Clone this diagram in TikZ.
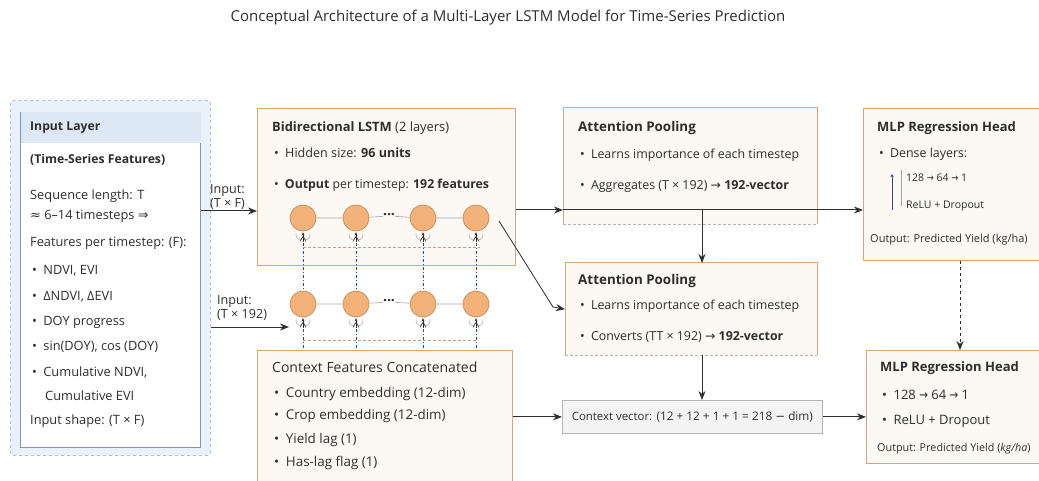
\documentclass[tikz,border=0pt]{standalone}
\usepackage{fontspec}
\setmainfont{Open Sans}
\newfontfamily\symf{DejaVu Sans}
\usetikzlibrary{arrows.meta,calc}

\definecolor{textc}{HTML}{2E2E2E}
\definecolor{boxline}{HTML}{D6A77A}
\definecolor{boxfill}{HTML}{FCF9F5}
\definecolor{inbg}{HTML}{E9F1FB}
\definecolor{inline}{HTML}{A9C2E0}
\definecolor{ininner}{HTML}{7E97B8}
\definecolor{inhead}{HTML}{DDE8F5}
\definecolor{cellfill}{HTML}{F2B27A}
\definecolor{cellline}{HTML}{C98A50}
\definecolor{navy}{HTML}{2F4A78}
\definecolor{vecfill}{HTML}{F4F4F4}
\definecolor{vecline}{HTML}{B5B5B5}

\newcommand{\sy}[1]{{\symf #1}}
\newcommand{\syto}{{\symf\scalebox{0.8}[1]{→}}}

\tikzset{
  txt/.style={anchor=west, inner sep=0pt, text=textc, font=\fontsize{12.4}{14}\selectfont},
  inb/.style={txt, font=\fontsize{12.8}{15}\selectfont},
  ctxb/.style={txt, font=\fontsize{13.4}{15}\selectfont},
  small/.style={txt, font=\fontsize{11}{13}\selectfont},
  ttl/.style={txt, font=\fontsize{13.4}{16}\selectfont\bfseries},
  panel/.style={fill=boxfill, draw=boxline, line width=1pt, anchor=north west, inner sep=0pt},
  cell/.style={circle, fill=cellfill, draw=cellline, line width=0.7pt, minimum size=26pt, inner sep=0pt},
  arr/.style={draw=textc, line width=1pt, -{Stealth[length=9pt,width=7pt]}},
  vlink/.style={draw=navy, line width=1pt, dash pattern=on 3pt off 2pt on 1pt off 2pt},
  hlink/.style={draw=boxline!80!gray, line width=0.7pt, dash pattern=on 3pt off 2pt},
  fork/.pic={
    \draw[gray!70, line width=0.5pt] (-7,1) .. controls (-7,8) and (-2,9) .. (-1,5);
    \draw[gray!70, line width=0.5pt] (7,1) .. controls (7,8) and (2,9) .. (1,5);
    \draw[textc, line width=0.6pt] (-3,9) -- (0,4) -- (3,9);
    \draw[textc, line width=0.6pt, -{Stealth[length=3pt,width=3pt]}] (0,10) -- (0,0);
  }
}

\begin{document}
\begin{tikzpicture}[x=1pt, y=-1pt]
\useasboundingbox (0,0) rectangle (1039,481);
\fill[white] (0,0) rectangle (1039,481);

% title
\node[txt, anchor=center, font=\fontsize{15}{18}\selectfont] (title) at (508,18)
  {Conceptual Architecture of a Multi-Layer LSTM Model for Time-Series Prediction};

% ---------------- input layer ----------------
\node[draw=inline, fill=inbg, dashed, rounded corners=3pt, line width=0.8pt,
      minimum width=200pt, minimum height=355pt, anchor=north west] (inout) at (10,100) {};
\node[draw=ininner, fill=white, line width=1pt, minimum width=180pt, minimum height=335pt,
      anchor=north west] (inbox) at (20,112) {};
\fill[inhead] ($(inbox.north west)+(0.5,0.5)$) rectangle ($(inbox.north east)+(-0.5,31)$);
\node[ttl, font=\fontsize{12.2}{14}\selectfont\bfseries] (inT) at (30,128) {Input Layer};
\node[ttl, font=\fontsize{12.2}{14}\selectfont\bfseries] (inS) at (30,160) {(Time-Series Features)};
\node[inb] (in1) at (30,196) {Sequence length: T};
\node[inb] (in2) at (30,216) {\sy{≈} 6–14 timesteps \sy{⇒}};
\node[inb] (in3) at (30,243) {Features per timestep: (F):};
\node[inb] (in4) at (32,271) {•\enspace NDVI, EVI};
\node[inb] (in5) at (32,297) {•\enspace ΔNDVI, ΔEVI};
\node[inb] (in6) at (32,322) {•\enspace DOY progress};
\node[inb] (in7) at (32,347) {•\enspace sin(DOY), cos (DOY)};
\node[inb] (in8) at (32,372) {•\enspace Cumulative NDVI,};
\node[inb] (in9) at (45,396) {Cumulative EVI};
\node[inb] (in10) at (30,421) {Input shape: (T × F)};

% ---------------- bidirectional LSTM ----------------
\node[panel, minimum width=258pt, minimum height=157pt] (lstm) at (257,108) {};
\node[ttl, font=\fontsize{12.9}{15}\selectfont\bfseries] (lstmT) at (272,128) {Bidirectional LSTM \mdseries(2 layers)};
\node[txt, font=\fontsize{12.6}{15}\selectfont] (lstm1) at (274,153) {•\enspace Hidden size: \textbf{96 units}};
\node[txt, font=\fontsize{12.3}{15}\selectfont] (lstm2) at (274,185) {•\enspace \textbf{Output} per timestep: \textbf{192 features}};

% two rows of recurrent cells
\foreach \r/\y in {1/218, 2/304}{
  \node[cell] (c\r1) at (303,\y) {};
  \node[cell] (c\r2) at (356,\y) {};
  \node[txt, anchor=center, font=\fontsize{14}{14}\selectfont\bfseries] (d\r) at (389,\y-2) {···};
  \node[cell] (c\r3) at (423,\y) {};
  \node[cell] (c\r4) at (476,\y) {};
  \draw[gray!70, line width=0.6pt] (c\r1) -- (c\r2) (c\r2) -- (d\r) (d\r) -- (c\r3) (c\r3) -- (c\r4);
  \foreach \i in {1,...,4}{
    \path ($(c\r\i.south)+(0,1)$) pic {fork};
  }
}
\draw[hlink] ($(c11.south)+(0,16)$) -- ($(c14.south)+(4,16)$);
\draw[hlink] ($(c21.south)+(0,23)$) -- ($(c24.south)+(2,23)$);
\foreach \i in {1,...,4}{
  \draw[vlink] ($(c1\i.south)+(0,12)$) -- (c2\i.north);
  \draw[vlink] ($(c2\i.south)+(0,12)$) -- ($(c2\i.south)+(0,46)$);
}

% ---------------- context features ----------------
\node[panel, minimum width=255pt, minimum height=135pt] (ctx) at (257,350) {};
\node[txt, font=\fontsize{14}{16}\selectfont] (ctxT) at (272,367) {Context Features Concatenated};
\node[ctxb] (ctx1) at (274,394) {•\enspace Country embedding (12-dim)};
\node[ctxb] (ctx2) at (274,416) {•\enspace Crop embedding (12-dim)};
\node[ctxb] (ctx3) at (274,440) {•\enspace Yield lag (1)};
\node[ctxb] (ctx4) at (274,463) {•\enspace Has-lag flag (1)};

% ---------------- attention pooling ----------------
\node[fill=boxfill, minimum width=254pt, minimum height=116pt, anchor=north west, inner sep=0pt] (att1) at (563,108) {};
\draw[boxline, line width=1pt] (att1.south west) -- (att1.north west) -- (att1.north east) -- (att1.south east);
\draw[gray!60, line width=0.7pt, dash pattern=on 3pt off 2pt] (att1.south west) -- (att1.south east);
\node[ttl] (att1T) at (578,128) {Attention Pooling};
\node[txt] (att11) at (580,155) {•\enspace Learns importance of each timestep};
\node[txt] (att12) at (580,187) {•\enspace Aggregates (T × 192) \sy{→} \textbf{192-vector}};

\node[fill=boxfill, minimum width=252pt, minimum height=92pt, anchor=north west, inner sep=0pt] (att2) at (565,263) {};
\draw[boxline, line width=1pt] (att2.south west) -- (att2.north west) -- (att2.north east) -- (att2.south east);
\draw[gray!60, line width=0.7pt, dash pattern=on 3pt off 2pt] (att2.south west) -- (att2.south east);
\node[ttl] (att2T) at (578,281) {Attention Pooling};
\node[txt] (att21) at (580,306) {•\enspace Learns importance of each timestep};
\node[txt] (att22) at (580,337) {•\enspace Converts (TT × 192) \sy{→} \textbf{192-vector}};

% context vector
\node[fill=vecfill, draw=vecline, line width=0.8pt, minimum width=260pt, minimum height=33pt,
      anchor=north west, inner sep=0pt] (ctxv) at (562,400) {};
\node[txt, anchor=center] (ctxvT) at (ctxv.center)
  {{\fontsize{11.4}{13}\selectfont Context vector:} {\fontsize{11.8}{14}\selectfont (12 + 12 + 1 + 1 = 218 \sy{−} dim)}};

% ---------------- MLP heads ----------------
\node[panel, minimum width=190pt, minimum height=152pt] (mlp1) at (863,108) {};
\node[ttl, font=\fontsize{13}{16}\selectfont\bfseries] (mlp1T) at (877,128) {MLP Regression Head};
\node[txt, font=\fontsize{12.4}{14}\selectfont] (mlp11) at (879,154) {•\enspace Dense layers:};
\node[txt, font=\fontsize{10.5}{12}\selectfont] (mlp12) at (906,178) {128 \syto{} 64 \syto{} 1};
\node[txt, font=\fontsize{10.5}{12}\selectfont] (mlp13) at (906,206) {ReLU + Dropout};
\node[small] (mlp14) at (870,240) {Output: Predicted Yield (kg/ha)};
\draw[navy, line width=0.8pt, -{Stealth[length=3pt,width=3pt]}] (892,210) -- (892,174);
\draw[gray!70, line width=0.7pt] (901,170) -- (901,206);

\node[panel, minimum width=190pt, minimum height=113pt] (mlp2) at (866,350) {};
\node[ttl, font=\fontsize{13}{16}\selectfont\bfseries] (mlp2T) at (880,368) {MLP Regression Head};
\node[txt, font=\fontsize{13}{15}\selectfont] (mlp21) at (882,395) {•\enspace 128 \syto{} 64 \syto{} 1};
\node[txt, font=\fontsize{13}{15}\selectfont] (mlp22) at (882,421) {•\enspace ReLU + Dropout};
\node[small, font=\fontsize{10.8}{13}\selectfont] (mlp23) at (877,449) {Output: Predicted Yield (\textit{kg/ha})};

% ---------------- inputs ----------------
\node[txt, font=\fontsize{12.6}{13.5}\selectfont, align=left] (lab1) at (210,197) {Input:\\(T × F)};
\node[txt, font=\fontsize{12.6}{14.5}\selectfont, align=left] (lab2) at (217,308) {Input:\\(T × 192)};
\coordinate (y1) at (0,211);
\coordinate (y2) at (0,210);
\coordinate (in2end) at (289,327);
\draw[arr] (inbox.east |- y1) -- (lstm.west |- y1);
\draw[arr] (inout.east |- in2end) -- (in2end);
\draw[textc, line width=0.7pt] ($(lab2.east)+(2,0)$) -- ($(lab2.east)+(2,0)$ |- in2end);

% ---------------- connectors ----------------
\coordinate (j1) at (702,210);
\coordinate (j2) at (960,0);
\coordinate (dstart) at ($(c14)+(23,3)$);
\coordinate (dbend) at (553,307);
\draw[arr] (lstm.east |- y2) -- (att1.west |- y2);
\draw[arr] (att1.west |- y2) -- (mlp1.west |- y2);
\draw[arr] (j1) -- (j1 |- att2.north);
\draw[arr, line width=0.8pt] (dstart) -- (dbend) -- (att2.west);
\draw[arr] (j1 |- att2.south) -- (j1 |- ctxv.north);
\draw[arr] (ctx.east |- ctxv.west) -- (ctxv.west);
\draw[arr] (ctxv.east) -- (mlp2.west |- ctxv.east);
\draw[arr, dashed, line width=0.8pt] (j2 |- mlp1.south) -- (j2 |- mlp2.north);
\end{tikzpicture}
\end{document}
